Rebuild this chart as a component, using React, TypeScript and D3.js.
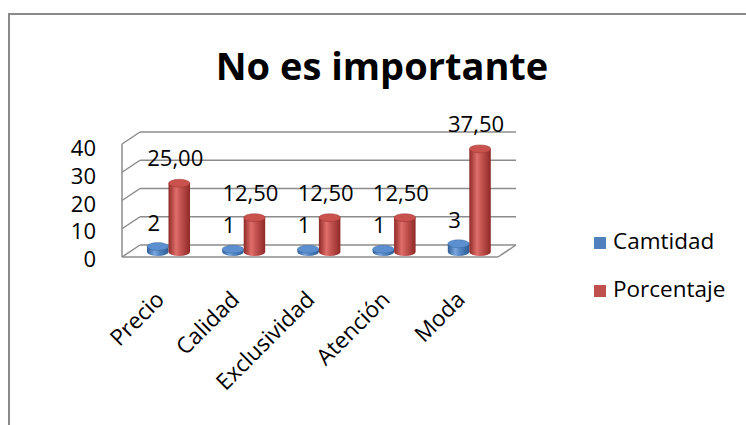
import React from "react";
import * as d3 from "d3";

const categories = ["Precio", "Calidad", "Exclusividad", "Atención", "Moda"];
const seriesNames = ["Camtidad", "Porcentaje"];
const cantidad = [2, 1, 1, 1, 3];
const porcentaje = [25.0, 12.5, 12.5, 12.5, 37.5];
const yTicks = [0, 10, 20, 30, 40];
const title = "No es importante";

const W = 746;
const H = 425;
const FONT = "'Open Sans', 'Liberation Sans', sans-serif";

// plot geometry
const frontLeft = 122;
const frontRight = 498;
const depthX = 18;
const depthY = -12;

const gridFront = d3.scaleLinear().domain([0, 40]).range([257, 144]);
const barY = d3.scaleLinear().domain([0, 40]).range([252, 142]);
const xBand = d3.scaleBand<string>().domain(categories).range([frontLeft + depthX / 2, frontRight + depthX / 2]).padding(0);
const inner = d3.scaleBand<string>().domain(seriesNames).range([16, 59]).padding(0);

const colors: Record<string, { dark: string; mid: string; light: string; top: string }> = {
  Camtidad: { dark: "#2f5d95", mid: "#4f81bd", light: "#7aa6de", top: "#5b8fd0" },
  Porcentaje: { dark: "#8e2a27", mid: "#c0504d", light: "#e06e6a", top: "#c9524f" },
};

const fmt = (v: number) => v.toFixed(2).replace(".", ",");

function Cylinder({ cx, v, name }: { cx: number; v: number; name: string }) {
  const rx = inner.bandwidth() / 2;
  const ry = 4;
  const y0 = barY(0);
  const y1 = barY(v);
  const id = `grad-${name}`;
  return (
    <g>
      <path
        d={`M${cx - rx},${y1} L${cx - rx},${y0} A${rx},${ry} 0 0 0 ${cx + rx},${y0} L${cx + rx},${y1} Z`}
        fill={`url(#${id})`}
      />
      <ellipse cx={cx} cy={y1} rx={rx} ry={ry} fill={colors[name].top} stroke={colors[name].dark} strokeWidth={0.4} />
    </g>
  );
}

export default function App() {
  const backY = (v: number) => gridFront(v) + depthY;
  return (
    <svg width={W} height={H} style={{ position: "absolute", left: 0, top: 0, background: "#fff" }}>
      <defs>
        {seriesNames.map((n) => (
          <linearGradient key={n} id={`grad-${n}`} x1="0" x2="1" y1="0" y2="0">
            <stop offset="0" stopColor={colors[n].dark} />
            <stop offset="0.35" stopColor={colors[n].light} />
            <stop offset="0.6" stopColor={colors[n].mid} />
            <stop offset="1" stopColor={colors[n].dark} />
          </linearGradient>
        ))}
      </defs>
      <rect x={9} y={14} width={W + 20} height={H + 20} fill="#fff" stroke="#8a8a8a" strokeWidth={2} />
      <text x={382} y={80} textAnchor="middle" fontFamily={FONT} fontWeight="bold" fontSize={38} fill="#000">
        {title}
      </text>

      {/* grid / walls */}
      <g stroke="#8c8c8c" strokeWidth={1.5} fill="none">
        {yTicks.map((t) => (
          <g key={t}>
            <line x1={frontLeft} y1={gridFront(t)} x2={frontLeft + depthX} y2={backY(t)} />
            <line x1={frontLeft + depthX} y1={backY(t)} x2={frontRight + depthX} y2={backY(t)} />
          </g>
        ))}
        <line x1={frontLeft} y1={gridFront(0)} x2={frontLeft} y2={gridFront(40)} />
        <line x1={frontLeft} y1={gridFront(0)} x2={frontRight} y2={gridFront(0)} />
        <line x1={frontRight} y1={gridFront(0)} x2={frontRight + depthX} y2={backY(0)} />
      </g>

      {/* y tick labels */}
      {yTicks.map((t) => (
        <text key={t} x={96} y={gridFront(t) + 10 + (t / 40) * 2} textAnchor="end" fontFamily={FONT} fontSize={22} fill="#000">
          {t}
        </text>
      ))}

      {/* bars */}
      {categories.map((c, i) => {
        const bx = xBand(c)!;
        const cb = bx + inner("Camtidad")! + inner.bandwidth() / 2;
        const cr = bx + inner("Porcentaje")! + inner.bandwidth() / 2;
        return (
          <g key={c}>
            <Cylinder cx={cb} v={cantidad[i]} name="Camtidad" />
            <Cylinder cx={cr} v={porcentaje[i]} name="Porcentaje" />
            <text x={cb - 4} y={barY(cantidad[i]) - 16} textAnchor="middle" fontFamily={FONT} fontSize={22} fill="#000">
              {cantidad[i]}
            </text>
            <text x={cr - 4} y={barY(porcentaje[i]) - 17} textAnchor="middle" fontFamily={FONT} fontSize={22} fill="#000">
              {fmt(porcentaje[i])}
            </text>
          </g>
        );
      })}

      {/* x labels */}
      {categories.map((c) => {
        const x = xBand(c)! + xBand.bandwidth() / 2 - 3;
        const y = 301;
        return (
          <text key={c} transform={`translate(${x},${y}) rotate(-45)`} textAnchor="end" fontFamily={FONT} fontSize={22.5} fill="#000">
            {c}
          </text>
        );
      })}

      {/* legend */}
      {seriesNames.map((n, i) => (
        <g key={n} transform={`translate(594,${237 + i * 48})`}>
          <rect x={0} y={0} width={12} height={12} fill={colors[n].mid} />
          <text x={19} y={12} fontFamily={FONT} fontSize={22.5} fill="#000">
            {n}
          </text>
        </g>
      ))}
    </svg>
  );
}
